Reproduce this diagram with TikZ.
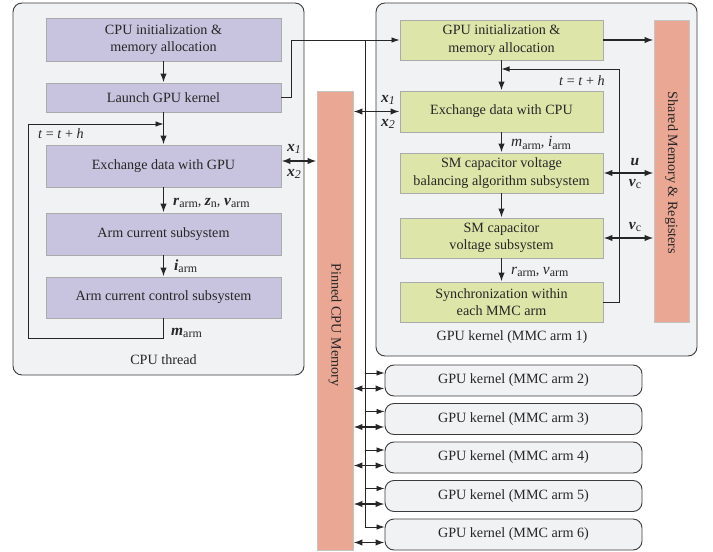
\documentclass[tikz,border=0pt]{standalone}
\usepackage{fontspec}
\setmainfont{Liberation Serif}
\usetikzlibrary{arrows.meta,calc}
\definecolor{cpufill}{HTML}{C8C4DF}
\definecolor{gpufill}{HTML}{DEE5A9}
\definecolor{memfill}{HTML}{E9A794}
\definecolor{panelfill}{HTML}{F1F2F4}
\definecolor{boxline}{HTML}{ABABAB}
\definecolor{panelline}{HTML}{3C3C3C}
\definecolor{ink}{HTML}{262626}
\tikzset{
  panel/.style={draw=panelline, fill=panelfill, line width=0.9bp, rounded corners=9bp},
  cpubox/.style={draw=boxline, fill=cpufill, line width=0.9bp, minimum width=235bp, align=center, inner sep=0pt},
  gpubox/.style={draw=boxline, fill=gpufill, line width=0.9bp, minimum width=203bp, align=center, inner sep=0pt},
  membar/.style={draw=boxline!70, fill=memfill, line width=0.9bp, inner sep=0pt},
  kernbox/.style={panel, minimum width=257bp, minimum height=31bp, inner sep=0pt},
  flow/.style={draw=ink, line width=1.5bp, -{Latex[length=9bp,width=6.5bp]}},
  both/.style={draw=ink, line width=1.5bp, {Latex[length=9bp,width=6.5bp]}-{Latex[length=9bp,width=6.5bp]}},
  wire/.style={draw=ink, line width=0.8bp},
  wirearr/.style={wire, -{Latex[length=8bp,width=5.5bp]}},
  lbl/.style={text=ink, inner sep=0pt},
}
% bold italic symbol and a near full-size lowered subscript
\newcommand{\bv}[1]{{\fontsize{15.5}{15.5}\selectfont\textbf{\textit{#1}}}}
\newcommand{\iv}[1]{{\fontsize{15.5}{15.5}\selectfont\textit{#1}}}
\newcommand{\sbs}[1]{\raisebox{-0.35ex}{\fontsize{12}{12}\selectfont #1}}
\begin{document}
\begin{tikzpicture}[x=1bp, y=-1bp, font=\fontsize{14.2}{17.4}\selectfont, text=ink]
\useasboundingbox (0,0) rectangle (713,552);

% --- CPU thread panel ---
\draw[panel] (13,3) rectangle (304,375);
\node[cpubox, minimum height=43bp] (cpuinit) at (163.5,39.5) {CPU initialization \&\\memory allocation};
\node[cpubox, minimum height=29bp] (launch) at (163.5,97.5) {Launch GPU kernel};
\node[cpubox, minimum height=42bp] (exgpu) at (163.5,166) {Exchange data with GPU};
\node[cpubox, minimum height=42bp] (armcur) at (163.5,234) {Arm current subsystem};
\node[cpubox, minimum height=41bp] (armctrl) at (163.5,297.5) {Arm current control subsystem};
\node[lbl] (cputhread) at (163.5,360) {CPU thread};

% --- GPU kernel panel (arm 1) ---
\draw[panel] (376,3) rectangle (697,356);
\node[gpubox, minimum height=40bp] (gpuinit) at (501.5,40) {GPU initialization \&\\memory allocation};
\node[gpubox, minimum height=41bp] (excpu) at (501.5,111.5) {Exchange data with CPU};
\node[gpubox, minimum height=40bp] (bal) at (501.5,173) {SM capacitor voltage\\balancing algorithm subsystem};
\node[gpubox, minimum height=40bp] (smv) at (501.5,238) {SM capacitor\\voltage subsystem};
\node[gpubox, minimum height=40bp] (sync) at (501.5,302) {Synchronization within\\each MMC arm};
\node[lbl] (gputitle) at (512,337) {GPU kernel (MMC arm 1)};

% --- memories ---
\node[membar, minimum width=36bp, minimum height=459bp] (pinned) at (335,320.5) {};
\node[lbl, rotate=-90] (pinnedtxt) at (335,325) {Pinned CPU Memory};
\node[membar, minimum width=35bp, minimum height=302bp] (shared) at (671.5,171) {};
\node[lbl, rotate=-90] (sharedtxt) at (671.5,173) {Shared Memory \& Registers};

% --- further GPU kernels ---
\foreach \k/\yc in {2/380.5,3/419,4/457.5,5/496,6/534.5}{
  \node[kernbox] (kern\k) at (513.5,\yc) {GPU kernel (MMC arm \k)};
}

% --- CPU flow ---
\draw[flow] (cpuinit) -- (launch);
\draw[flow] (launch) -- (exgpu);
\draw[flow] (exgpu) -- (armcur);
\draw[flow] (armcur) -- (armctrl);
\coordinate (cpuloopA) at (163.5,338);
\coordinate (cpuloopB) at (28,338);
\coordinate (cpuloopC) at (28,124);
\coordinate (cpuloopD) at (163.5,124);
\draw[wire] (armctrl.south) -- (cpuloopA) -- (cpuloopB) -- (cpuloopC);
\draw[wirearr] (cpuloopC) -- (cpuloopD);
\node[lbl, anchor=west] (cput) at (38,134) {\textit{t} = \textit{t} + \textit{h}};
\node[lbl, anchor=west] (lblr) at (173,203) {\bv{r}\sbs{arm}, \bv{z}\sbs{n}, \bv{v}\sbs{arm}};
\node[lbl, anchor=west] (lbli) at (174,266) {\bv{i}\sbs{arm}};
\node[lbl, anchor=west] (lblm) at (171,333) {\bv{m}\sbs{arm}};

% CPU <-> pinned memory
\draw[both] ($(exgpu.east)+(0,-5)$) -- ($(pinned.west|-exgpu.east)+(0,-5)$);
\node[lbl] (cx1) at (294,149) {\bv{x}\sbs{\textit{1}}};
\node[lbl] (cx2) at (294,174) {\bv{x}\sbs{\textit{2}}};

% --- kernel launch bus ---
\coordinate (launchA) at (291.5,97.5);
\coordinate (launchB) at (291.5,40);
\coordinate (busTop) at (365,40);
\draw[wire] (launch.east) -- (launchA) -- (launchB) -- (busTop);
\draw[wirearr] (busTop) -- (gpuinit.west);
\draw[wire] (busTop) -- (365,527);
\foreach \k in {2,...,6}{
  \draw[wirearr] ($(kern\k.west)+(-20,-7.5)$) -- ($(kern\k.west)+(0,-7.5)$);
  \draw[both] ($(pinned.east|-kern\k.west)+(0,8)$) -- ($(kern\k.west)+(0,8)$);
}

% --- GPU flow ---
\draw[flow] (gpuinit.east) -- (shared.west|-gpuinit.east);
\draw[flow] (gpuinit) -- (excpu);
\draw[flow] (excpu) -- (bal);
\draw[flow] (bal) -- (smv);
\draw[flow] (smv) -- (sync);
\coordinate (gpuloopA) at (619,302);
\coordinate (gpuloopB) at (619,69);
\coordinate (gpuloopC) at (501.5,69);
\draw[wire] (sync.east) -- (gpuloopA) -- (gpuloopB);
\draw[wirearr] (gpuloopB) -- (gpuloopC);
\node[lbl, anchor=east] (gput) at (605,81) {\textit{t} = \textit{t} + \textit{h}};

\draw[both] (pinned.east|-excpu.west) -- (excpu.west);
\node[lbl] (gx1) at (388,100) {\bv{x}\sbs{\textit{1}}};
\node[lbl] (gx2) at (388,124) {\bv{x}\sbs{\textit{2}}};
\node[lbl, anchor=west] (lblmi) at (511,143) {\iv{m}\sbs{arm}, \iv{i}\sbs{arm}};

\draw[both] (bal.east) -- (shared.west|-bal.east);
\node[lbl] (lblu) at (635,162) {\bv{u}};
\node[lbl] (lblvc1) at (635,184) {\bv{v}\sbs{c}};
\draw[both] (smv.east) -- (shared.west|-smv.east);
\node[lbl] (lblvc2) at (635,227) {\bv{v}\sbs{c}};
\node[lbl, anchor=west] (lblrv) at (511,272) {\iv{r}\sbs{arm}, \iv{v}\sbs{arm}};
\end{tikzpicture}
\end{document}
